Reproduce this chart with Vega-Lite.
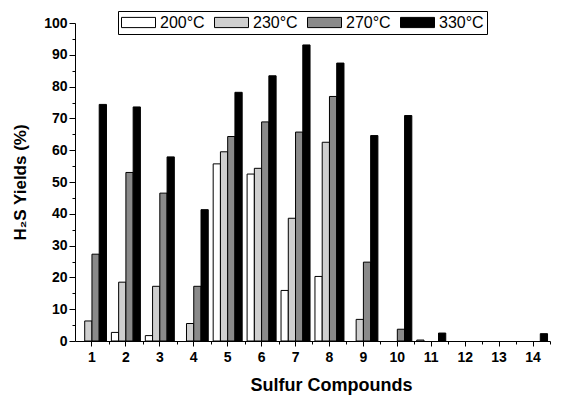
{
  "$schema": "https://vega.github.io/schema/vega-lite/v6.json",
  "width": 475,
  "height": 318,
  "autosize": "none",
  "padding": {"left": 75, "top": 23, "right": 17, "bottom": 55},
  "config": {
    "view": {"stroke": null},
    "font": "Liberation Sans"
  },
  "data": {
    "values": [
      {"c": 1, "t": "230°C", "v": 6.3}, {"c": 1, "t": "270°C", "v": 27.3}, {"c": 1, "t": "330°C", "v": 74.4},
      {"c": 2, "t": "200°C", "v": 2.7}, {"c": 2, "t": "230°C", "v": 18.5}, {"c": 2, "t": "270°C", "v": 53}, {"c": 2, "t": "330°C", "v": 73.6},
      {"c": 3, "t": "200°C", "v": 1.7}, {"c": 3, "t": "230°C", "v": 17.2}, {"c": 3, "t": "270°C", "v": 46.5}, {"c": 3, "t": "330°C", "v": 57.9},
      {"c": 4, "t": "230°C", "v": 5.5}, {"c": 4, "t": "270°C", "v": 17.2}, {"c": 4, "t": "330°C", "v": 41.3},
      {"c": 5, "t": "200°C", "v": 55.7}, {"c": 5, "t": "230°C", "v": 59.5}, {"c": 5, "t": "270°C", "v": 64.3}, {"c": 5, "t": "330°C", "v": 78.2},
      {"c": 6, "t": "200°C", "v": 52.5}, {"c": 6, "t": "230°C", "v": 54.3}, {"c": 6, "t": "270°C", "v": 68.9}, {"c": 6, "t": "330°C", "v": 83.4},
      {"c": 7, "t": "200°C", "v": 15.9}, {"c": 7, "t": "230°C", "v": 38.6}, {"c": 7, "t": "270°C", "v": 65.7}, {"c": 7, "t": "330°C", "v": 93.1},
      {"c": 8, "t": "200°C", "v": 20.3}, {"c": 8, "t": "230°C", "v": 62.5}, {"c": 8, "t": "270°C", "v": 76.9}, {"c": 8, "t": "330°C", "v": 87.4},
      {"c": 9, "t": "230°C", "v": 6.8}, {"c": 9, "t": "270°C", "v": 24.8}, {"c": 9, "t": "330°C", "v": 64.6},
      {"c": 10, "t": "270°C", "v": 3.7}, {"c": 10, "t": "330°C", "v": 70.9},
      {"c": 11, "t": "200°C", "v": 0.3}, {"c": 11, "t": "330°C", "v": 2.5},
      {"c": 14, "t": "330°C", "v": 2.3}
    ]
  },
  "layer": [
    {
      "mark": {"type": "bar", "stroke": "black", "strokeWidth": 1},
      "encoding": {
        "x": {
          "field": "c", "type": "ordinal",
          "scale": {"domain": [1, 2, 3, 4, 5, 6, 7, 8, 9, 10, 11, 12, 13, 14], "paddingInner": 0.145, "paddingOuter": 0.0725},
          "axis": {
            "title": "Sulfur Compounds", "titleFontSize": 18, "titleFontWeight": "bold", "titleColor": "black", "titlePadding": 12,
            "titleX": 256,
            "labelAngle": 0, "labelFontSize": 14, "labelFontWeight": "bold", "labelColor": "black", "labelPadding": 4,
            "tickSize": 5, "tickColor": "black", "domainColor": "black", "domainWidth": 1
          }
        },
        "xOffset": {"field": "t", "type": "nominal", "scale": {"domain": ["200°C", "230°C", "270°C", "330°C"], "paddingInner": 0, "paddingOuter": 0}},
        "y": {
          "field": "v", "type": "quantitative",
          "scale": {"domain": [0, 100], "nice": false},
          "axis": {
            "title": "H₂S Yields (%)", "titleFontSize": 17, "titleFontWeight": "bold", "titleColor": "black", "titlePadding": 14,
            "values": [0, 5, 10, 15, 20, 25, 30, 35, 40, 45, 50, 55, 60, 65, 70, 75, 80, 85, 90, 95, 100],
            "labelExpr": "datum.value % 10 === 0 ? datum.label : ''",
            "tickSize": {"condition": {"test": "datum.value % 10 === 0", "value": 6}, "value": 3},
            "labelFontSize": 14, "labelFontWeight": "bold", "labelColor": "black", "labelPadding": 2,
            "grid": false, "tickColor": "black", "domainColor": "black"
          }
        },
        "fill": {
          "field": "t", "type": "nominal",
          "scale": {"domain": ["200°C", "230°C", "270°C", "330°C"], "range": ["#ffffff", "#cfcfcf", "#8a8a8a", "#000000"]},
          "legend": {
            "title": null, "orient": "none", "legendX": 43, "legendY": -12, "direction": "horizontal",
            "symbolType": "M-1,-0.3H1V0.3H-1Z", "symbolSize": 1156, "symbolStrokeColor": "black", "symbolStrokeWidth": 1,
            "symbolOpacity": 1, "clipHeight": 17,
            "labelFontSize": 16, "labelColor": "black", "labelOffset": 4, "columnPadding": 9,
            "strokeColor": "black", "padding": 3, "fillColor": "white"
          }
        }
      }
    },
    {
      "mark": {"type": "tick", "opacity": 0},
      "encoding": {
        "x": {
          "field": "c", "type": "ordinal",
          "axis": {"orient": "bottom", "tickOffset": 16.96, "labels": false, "domain": false, "title": null, "tickSize": 3, "tickColor": "black"}
        }
      }
    }
  ],
  "resolve": {"axis": {"x": "independent"}}
}
